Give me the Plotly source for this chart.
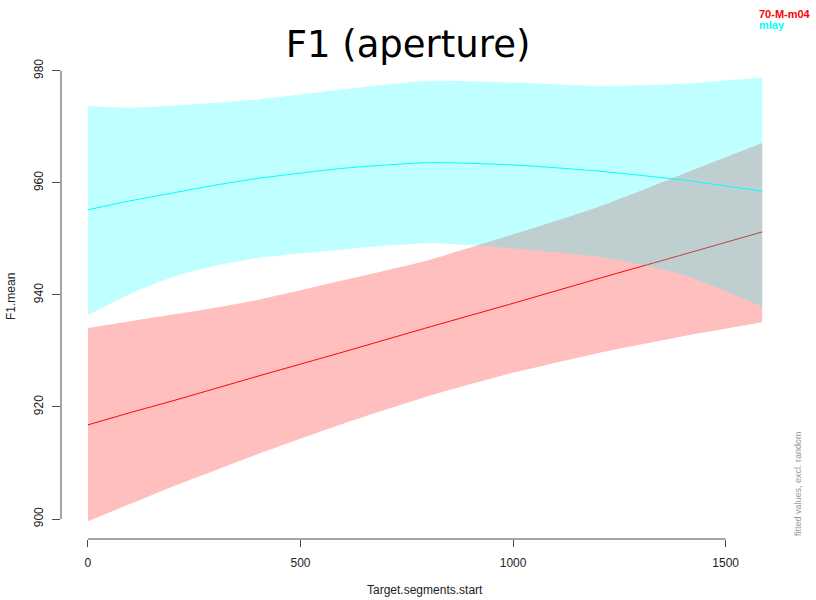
import plotly.graph_objects as go

# ---- data ----
x_vals = [0, 100, 200, 300, 400, 600, 800, 1000, 1200, 1400, 1586]

red_fit = [916.8, 919.0, 921.1, 923.3, 925.5, 929.8, 934.2, 938.5, 942.9, 947.2, 951.25]
red_upper = [934.1, 935.3, 936.5, 937.7, 939.1, 942.6, 946.2, 950.8, 955.7, 961.6, 967.1]
red_lower = [899.6, 902.7, 905.8, 908.7, 911.6, 917.0, 921.9, 926.1, 929.6, 932.6, 935.1]

cyan_fit = [955.2, 956.8, 958.2, 959.6, 960.8, 962.6, 963.6, 963.2, 962.1, 960.5, 958.5]
cyan_upper = [973.7, 973.4, 973.8, 974.3, 974.9, 976.7, 978.2, 977.9, 977.3, 977.7, 978.8]
cyan_lower = [936.4, 940.2, 943.2, 945.2, 946.6, 948.1, 949.2, 948.3, 946.8, 943.6, 937.9]

series_names = ["70-M-m04", "mlay"]
x_ticks = [0, 500, 1000, 1500]
y_ticks = [900, 920, 940, 960, 980]

RED = "#FF0000"
CYAN = "#00FFFF"
RED_FILL = "rgba(255,0,0,0.25)"
CYAN_FILL = "rgba(0,255,255,0.25)"
AX = "#4a4a4a"
FONT = "Liberation Sans, Arial, sans-serif"

fig = go.Figure()

def add_band(lower, upper, fit, line_col, fill_col, name):
    fig.add_trace(go.Scatter(x=x_vals, y=lower, mode="lines", line=dict(width=0, shape="spline", smoothing=0.6),
                             showlegend=False, hoverinfo="skip"))
    fig.add_trace(go.Scatter(x=x_vals, y=upper, mode="lines", line=dict(width=0, shape="spline", smoothing=0.6),
                             fill="tonexty", fillcolor=fill_col, showlegend=False, hoverinfo="skip"))
    fig.add_trace(go.Scatter(x=x_vals, y=fit, mode="lines", name=name,
                             line=dict(color=line_col, width=1, shape="spline", smoothing=0.6),
                             showlegend=False))

add_band(red_lower, red_upper, red_fit, RED, RED_FILL, series_names[0])
add_band(cyan_lower, cyan_upper, cyan_fit, CYAN, CYAN_FILL, series_names[1])

# detached R-style axis lines spanning first..last tick
fig.add_shape(type="line", xref="x", yref="paper", x0=x_ticks[0], x1=x_ticks[-1], y0=0, y1=0,
              line=dict(color=AX, width=1))
fig.add_shape(type="line", xref="paper", yref="y", x0=0, x1=0, y0=y_ticks[0], y1=y_ticks[-1],
              line=dict(color=AX, width=1))

fig.update_xaxes(range=[-63.4, 1649], tickvals=x_ticks, ticktext=[str(v) for v in x_ticks],
                 ticks="outside", ticklen=7, tickcolor=AX, tickwidth=1,
                 showline=False, showgrid=False, zeroline=False,
                 tickfont=dict(family=FONT, size=12, color="#222"), ticklabelstandoff=6)
fig.update_yaxes(range=[896.43, 983.0], tickvals=y_ticks, ticktext=[str(v) for v in y_ticks],
                 ticks="outside", ticklen=8, tickcolor=AX, tickwidth=1, tickangle=-90,
                 showline=False, showgrid=False, zeroline=False,
                 tickfont=dict(family=FONT, size=12, color="#222"), ticklabelstandoff=4)

annotations = [
    dict(text="Target.segments.start", xref="paper", yref="paper", x=0.5, y=-51/485,
         yanchor="middle", xanchor="center", showarrow=False,
         font=dict(family=FONT, size=12, color="#222")),
    dict(text="F1.mean", xref="paper", yref="paper", x=(10.5-61)/728, y=0.5,
         yanchor="middle", xanchor="center", textangle=-90, showarrow=False,
         font=dict(family=FONT, size=12, color="#222")),
    dict(text="fitted values, excl. random", xref="paper", yref="paper", x=(798-61)/728, y=(539-484)/485,
         yanchor="middle", xanchor="center", textangle=-90, showarrow=False,
         font=dict(family=FONT, size=9, color="#999999")),
    dict(text="<b>" + series_names[0] + "</b>", xref="paper", yref="paper", x=(757-61)/728, y=(539-13.8)/485,
         xanchor="left", yanchor="middle", showarrow=False,
         font=dict(family=FONT, size=11, color=RED)),
    dict(text="<b>" + series_names[1] + "</b>", xref="paper", yref="paper", x=(757-61)/728, y=(539-25.5)/485,
         xanchor="left", yanchor="middle", showarrow=False,
         font=dict(family=FONT, size=11, color=CYAN)),
]

fig.update_layout(
    width=816, height=600,
    margin=dict(l=61, r=27, t=54, b=61),
    paper_bgcolor="white", plot_bgcolor="white",
    title=dict(text="F1 (aperture)", x=0.5, xref="container", xanchor="center",
               y=1 - 44/600, yref="container", yanchor="middle",
               font=dict(family="DejaVu Sans, sans-serif", size=37, color="black")),
    annotations=annotations,
    showlegend=False,
)

fig.write_html("out.html", config={"displayModeBar": False},
               post_script="document.body.style.margin='0';document.body.style.overflow='hidden';")
